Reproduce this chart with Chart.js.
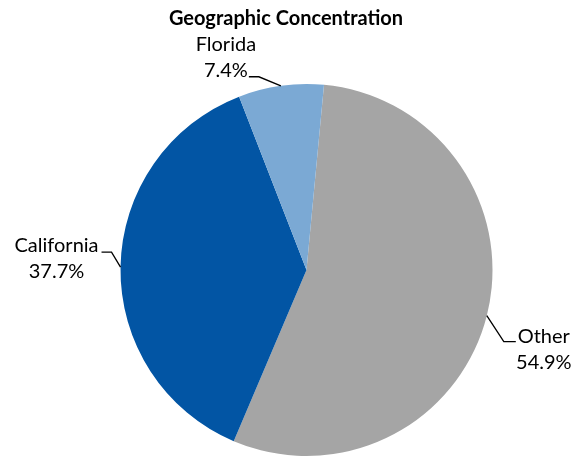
<!DOCTYPE html>
<html>
<head>
<meta charset="utf-8">
<script src="https://cdn.jsdelivr.net/npm/chart.js@4/dist/chart.umd.min.js"></script>
<style>
  html, body { margin: 0; padding: 0; background: #ffffff; }
  #wrap { width: 576px; height: 458px; position: relative; }
</style>
</head>
<body>
<div id="wrap"><canvas id="c" width="576" height="458"></canvas></div>
<script>
const categories = ["Other", "California", "Florida"];
const shares = [54.9, 37.7, 7.4];
const valueLabels = ["54.9%", "37.7%", "7.4%"];
const sliceColors = ["#A5A5A5", "#0255A4", "#7BA9D4"];
const chartTitle = "Geographic Concentration";

// label placement relative to the slice anchor (styling only)
const labelLayout = {
  "Other":      { elbow: [17, 26], end: [29, 26], text: [57, 21] },
  "California": { elbow: [-9, -15], end: [-19, -15], text: [-64, -22] },
  "Florida":    { elbow: [-22, -9], end: [-32, -9], text: [-55, -41] }
};

const titlePlugin = {
  id: "pageTitle",
  afterDraw(chart) {
    const ctx = chart.ctx;
    ctx.save();
    ctx.fillStyle = "#000000";
    ctx.font = "bold 20px Lato";
    ctx.textAlign = "center";
    ctx.textBaseline = "middle";
    ctx.fillText(chartTitle, chart.width / 2 - 2, 19);
    ctx.restore();
  }
};

const leaderPlugin = {
  id: "leaders",
  afterDatasetsDraw(chart) {
    const ctx = chart.ctx;
    const meta = chart.getDatasetMeta(0);
    ctx.save();
    meta.data.forEach((arc, i) => {
      const p = arc.getProps(["x", "y", "startAngle", "endAngle", "outerRadius"], true);
      const mid = (p.startAngle + p.endAngle) / 2;
      const ax = p.x + Math.cos(mid) * p.outerRadius;
      const ay = p.y + Math.sin(mid) * p.outerRadius;
      const L = labelLayout[categories[i]];
      ctx.strokeStyle = "#000000";
      ctx.lineWidth = 1.3;
      ctx.beginPath();
      ctx.moveTo(ax, ay);
      ctx.lineTo(ax + L.elbow[0], ay + L.elbow[1]);
      ctx.lineTo(ax + L.end[0], ay + L.end[1]);
      ctx.stroke();
      ctx.fillStyle = "#000000";
      ctx.font = "20px Lato";
      ctx.textAlign = "center";
      ctx.textBaseline = "middle";
      ctx.fillText(categories[i], ax + L.text[0], ay + L.text[1]);
      ctx.fillText(valueLabels[i], ax + L.text[0], ay + L.text[1] + 26);
    });
    ctx.restore();
  }
};

new Chart(document.getElementById("c"), {
  type: "pie",
  data: {
    labels: categories,
    datasets: [{
      data: shares,
      backgroundColor: sliceColors,
      borderWidth: 0,
      hoverOffset: 0
    }]
  },
  options: {
    responsive: false,
    animation: false,
    rotation: 5.4,
    layout: { padding: { top: 84, bottom: 2, left: 100, right: 63 } },
    plugins: {
      legend: { display: false },
      tooltip: { enabled: false },
      title: { display: false }
    }
  },
  plugins: [leaderPlugin, titlePlugin]
});
</script>
</body>
</html>
